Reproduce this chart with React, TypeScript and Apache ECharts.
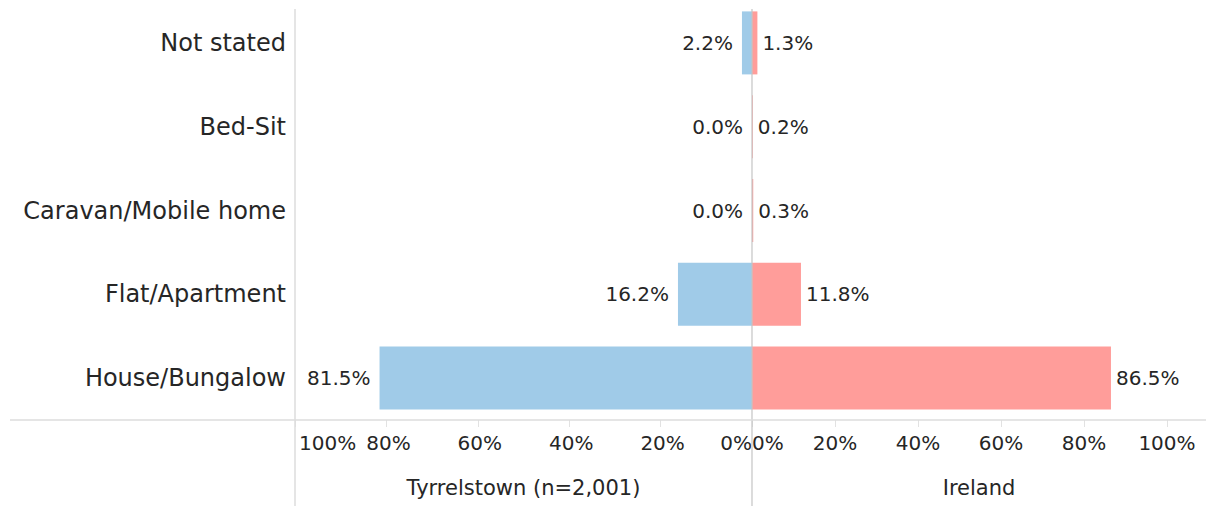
import React, { useEffect, useRef } from "react";
import * as echarts from "echarts";

const categories = ["Not stated", "Bed-Sit", "Caravan/Mobile home", "Flat/Apartment", "House/Bungalow"];
const tyrrelstown = [2.2, 0.0, 0.0, 16.2, 81.5];
const ireland = [1.3, 0.2, 0.3, 11.8, 86.5];
const leftTitle = "Tyrrelstown (n=2,001)";
const rightTitle = "Ireland";

const FONT = "DejaVu Sans";
const TEXT = "#262626";

export default function App() {
  const ref = useRef<HTMLDivElement>(null);
  useEffect(() => {
    document.body.style.margin = "0";
    const chart = echarts.init(ref.current!, null, { renderer: "svg" });
    const tickAxis = {
      type: "value",
      min: 0,
      interval: 20,
      axisLine: { show: false },
      axisTick: { show: true, length: 7, lineStyle: { color: "#e2e2e2", width: 1 } },
      splitLine: { show: false },
      nameLocation: "middle",
      nameGap: 57,
      nameTextStyle: { fontFamily: FONT, fontSize: 21, color: TEXT },
    };
    chart.setOption({
      animation: false,
      textStyle: { fontFamily: FONT },
      grid: [
        { left: 295, width: 457, top: 1, height: 419 },
        { left: 752, width: 454, top: 1, height: 419 },
      ],
      xAxis: [
        {
          ...tickAxis,
          gridIndex: 0,
          inverse: true,
          max: 100,
          name: leftTitle,
          axisLabel: {
            formatter: "{value}%",
            fontFamily: FONT,
            fontSize: 20,
            color: TEXT,
            margin: 13,
            alignMinLabel: "right",
            alignMaxLabel: "left",
            padding: [0, 0, 0, 4],
          },
        },
        {
          ...tickAxis,
          gridIndex: 1,
          max: 109.4,
          name: rightTitle,
          axisLabel: {
            formatter: "{value}%",
            fontFamily: FONT,
            fontSize: 20,
            color: TEXT,
            margin: 13,
            showMaxLabel: false,
            alignMinLabel: "left",
          },
        },
      ],
      yAxis: [
        {
          type: "category",
          gridIndex: 0,
          inverse: true,
          data: categories,
          position: "left",
          axisLine: { show: false, onZero: false },
          axisTick: { show: false },
          axisLabel: { fontFamily: FONT, fontSize: 24, color: TEXT, margin: 9 },
        },
        {
          type: "category",
          gridIndex: 1,
          inverse: true,
          data: categories,
          axisLine: { show: false },
          axisTick: { show: false },
          axisLabel: { show: false },
        },
      ],
      series: [
        {
          type: "bar",
          xAxisIndex: 0,
          yAxisIndex: 0,
          data: tyrrelstown,
          barWidth: 63,
          itemStyle: { color: "#a0cbe8" },
          label: {
            show: true,
            position: "left",
            distance: 9,
            formatter: (p: any) => p.value.toFixed(1) + "%",
            fontFamily: FONT,
            fontSize: 20,
            color: TEXT,
          },
        },
        {
          type: "bar",
          xAxisIndex: 1,
          yAxisIndex: 1,
          data: ireland,
          barWidth: 63,
          itemStyle: { color: "#ff9d9a" },
          label: {
            show: true,
            position: "right",
            distance: 5,
            formatter: (p: any) => p.value.toFixed(1) + "%",
            fontFamily: FONT,
            fontSize: 20,
            color: TEXT,
          },
        },
      ],
      graphic: [
        { type: "line", z: 10, shape: { x1: 295, y1: 9, x2: 295, y2: 506 }, style: { stroke: "#dddddd", lineWidth: 1.5 } },
        { type: "line", z: 10, shape: { x1: 752, y1: 9, x2: 752, y2: 506 }, style: { stroke: "#c4c4c4", lineWidth: 1.2 } },
        { type: "line", z: 10, shape: { x1: 10, y1: 420, x2: 1206, y2: 420 }, style: { stroke: "#dddddd", lineWidth: 1.5 } },
      ],
    });
    return () => chart.dispose();
  }, []);
  return <div ref={ref} style={{ width: 1206, height: 506 }} />;
}
